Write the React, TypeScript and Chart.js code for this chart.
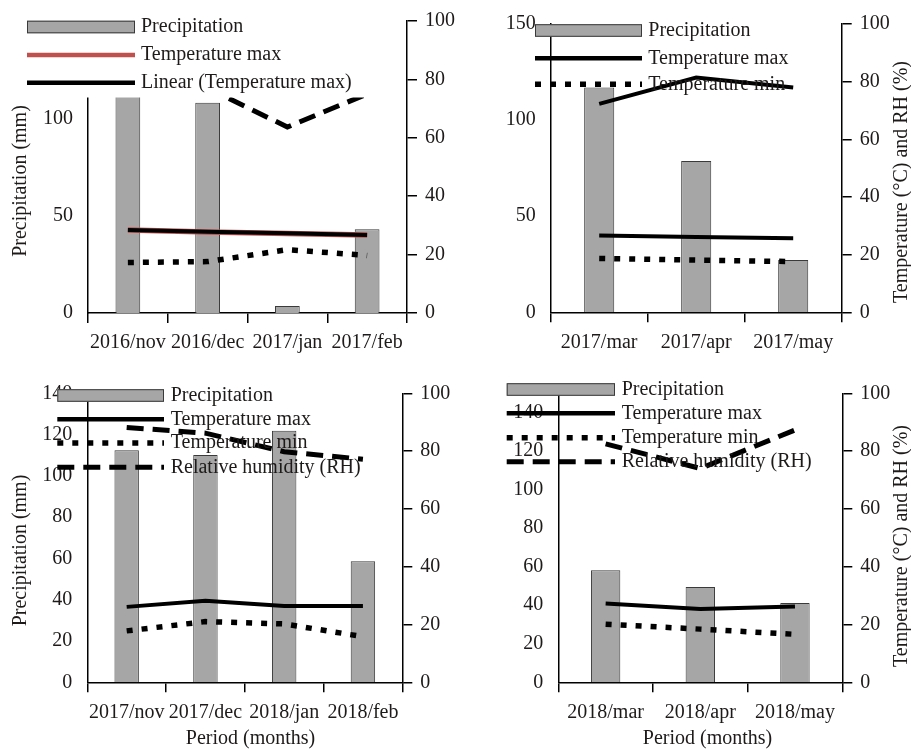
import React, { useEffect, useRef } from "react";
import { Chart, registerables } from "chart.js";

Chart.register(...registerables);

// ---------------- Data ----------------
const p1Labels = ["2016/nov", "2016/dec", "2017/jan", "2017/feb"];
const p1Precip = [128, 108, 3.6, 43];
const p1TempMax = [28.4, 27.7, 27.2, 26.7];
const p1TempMaxLinear = [28.4, 27.8, 27.3, 26.7];
const p1TempMin = [17.3, 17.6, 21.7, 19.7];
const p1RH = [80, 77, 63.7, 75];

const p2Labels = ["2017/mar", "2017/apr", "2017/may"];
const p2Precip = [117, 78.7, 27.2];
const p2TempMax = [26.6, 26.1, 25.7];
const p2TempMin = [18.7, 18.1, 17.6];
const p2RH = [72.3, 81.4, 78];

const p3Labels = ["2017/nov", "2017/dec", "2018/jan", "2018/feb"];
const p3Precip = [112.4, 110.1, 121.9, 58.6];
const p3TempMax = [26.1, 28.2, 26.4, 26.4];
const p3TempMin = [17.8, 21, 20.2, 15.8];
const p3RH = [88.2, 86.2, 79.8, 77.2];

const p4Labels = ["2018/mar", "2018/apr", "2018/may"];
const p4Precip = [58.1, 49.4, 41.2];
const p4TempMax = [27.3, 25.4, 26.2];
const p4TempMin = [20.1, 18.4, 16.6];
const p4RH = [82.5, 74, 87.3];

const precipTicksA = { max: 150, step: 50 };
const precipTicksB = { max: 140, step: 20 };
const precipTicksC = { max: 150, step: 20 };
const rightTicks = { max: 100, step: 20 };

// ---------------- Styles ----------------
const FONT = "'Liberation Serif', 'Times New Roman', serif";
const TEXT = "#1e1a1a";
const BAR_FILL = "#a6a6a6";
const BAR_BORDER = "#3a3a3a";
const RED = "#c0504d";
const DOT = [6, 9];
const DASH = [17, 9];

type Kind = "bar" | "solid" | "red" | "dotted" | "dashed";

const barDs = (data: number[]) => ({
  type: "bar" as const,
  label: "Precipitation",
  data,
  yAxisID: "y",
  backgroundColor: BAR_FILL,
  borderColor: BAR_BORDER,
  borderWidth: 1,
  barPercentage: 0.31,
  categoryPercentage: 1,
  order: 10,
});

const lineDs = (label: string, data: number[], kind: Kind, order: number) => ({
  type: "line" as const,
  label,
  data,
  yAxisID: "y1",
  borderColor: kind === "red" ? RED : "#000",
  borderWidth: kind === "dotted" ? 5.5 : kind === "dashed" ? 5 : kind === "red" ? 5.5 : 4,
  borderDash: kind === "dotted" ? DOT : kind === "dashed" ? DASH : [],
  borderCapStyle: "butt" as const,
  pointRadius: 0,
  tension: 0,
  fill: false,
  order,
});

interface LegendItem { kind: Kind; label: string; y: number }
interface Title { text: string; x: number; y: number; rot: number }
interface Spec {
  left: number; top: number; width: number; height: number;
  area: { left: number; right: number; top: number; bottom: number };
  labels: string[];
  datasets: any[];
  precipAxis: { max: number; step: number };
  legend: { x0: number; x1: number; textX: number; items: LegendItem[] };
  whiteBox?: [number, number, number, number];
  titles: Title[];
}

const specs: Spec[] = [
  {
    left: 0, top: 0, width: 455, height: 370,
    area: { left: 88, right: 407, top: 21, bottom: 313 },
    labels: p1Labels,
    datasets: [
      barDs(p1Precip),
      lineDs("Temperature max", p1TempMax, "red", 2),
      lineDs("Linear (Temperature max)", p1TempMaxLinear, "solid", 1),
      lineDs("Temperature min", p1TempMin, "dotted", 3),
      lineDs("Relative humidity (RH)", p1RH, "dashed", 4),
    ],
    precipAxis: precipTicksA,
    legend: {
      x0: 27, x1: 135, textX: 141,
      items: [
        { kind: "bar", label: "Precipitation", y: 27 },
        { kind: "red", label: "Temperature max", y: 55 },
        { kind: "solid", label: "Linear (Temperature max)", y: 82.7 },
      ],
    },
    whiteBox: [10, 0, 390, 97.5],
    titles: [{ text: "Precipitation (mm)", x: 21, y: 181, rot: -Math.PI / 2 }],
  },
  {
    left: 455, top: 0, width: 456, height: 370,
    area: { left: 95.7, right: 386.7, top: 24, bottom: 312.3 },
    labels: p2Labels,
    datasets: [
      barDs(p2Precip),
      lineDs("Temperature max", p2TempMax, "solid", 1),
      lineDs("Temperature min", p2TempMin, "dotted", 2),
      lineDs("Relative humidity (RH)", p2RH, "solid", 3),
    ],
    precipAxis: precipTicksA,
    legend: {
      x0: 80, x1: 187, textX: 193.3,
      items: [
        { kind: "bar", label: "Precipitation", y: 30.5 },
        { kind: "solid", label: "Temperature max", y: 58.3 },
        { kind: "dotted", label: "Temperature min", y: 84.3 },
      ],
    },
    titles: [{ text: "Temperature (°C) and RH (%)", x: 447, y: 182, rot: -Math.PI / 2 }],
  },
  {
    left: 0, top: 370, width: 455, height: 379,
    area: { left: 87.3, right: 402.3, top: 23.3, bottom: 312.3 },
    labels: p3Labels,
    datasets: [
      barDs(p3Precip),
      lineDs("Temperature max", p3TempMax, "solid", 1),
      lineDs("Temperature min", p3TempMin, "dotted", 2),
      lineDs("Relative humidity (RH)", p3RH, "dashed", 3),
    ],
    precipAxis: precipTicksB,
    legend: {
      x0: 57.3, x1: 164, textX: 170.7,
      items: [
        { kind: "bar", label: "Precipitation", y: 25.5 },
        { kind: "solid", label: "Temperature max", y: 49.3 },
        { kind: "dotted", label: "Temperature min", y: 73 },
        { kind: "dashed", label: "Relative humidity (RH)", y: 97.3 },
      ],
    },
    titles: [
      { text: "Precipitation (mm)", x: 21, y: 180.5, rot: -Math.PI / 2 },
      { text: "Period (months)", x: 250.5, y: 368.3, rot: 0 },
    ],
  },
  {
    left: 455, top: 370, width: 456, height: 379,
    area: { left: 103.3, right: 387.3, top: 23.3, bottom: 312.3 },
    labels: p4Labels,
    datasets: [
      barDs(p4Precip),
      lineDs("Temperature max", p4TempMax, "solid", 1),
      lineDs("Temperature min", p4TempMin, "dotted", 2),
      lineDs("Relative humidity (RH)", p4RH, "dashed", 3),
    ],
    precipAxis: precipTicksC,
    legend: {
      x0: 51.7, x1: 160, textX: 166.7,
      items: [
        { kind: "bar", label: "Precipitation", y: 19.5 },
        { kind: "solid", label: "Temperature max", y: 43.3 },
        { kind: "dotted", label: "Temperature min", y: 67.7 },
        { kind: "dashed", label: "Relative humidity (RH)", y: 91.7 },
      ],
    },
    titles: [
      { text: "Temperature (°C) and RH (%)", x: 447, y: 176, rot: -Math.PI / 2 },
      { text: "Period (months)", x: 252.5, y: 368.3, rot: 0 },
    ],
  },
];

function drawSymbol(ctx: CanvasRenderingContext2D, kind: Kind, x0: number, x1: number, y: number) {
  ctx.save();
  if (kind === "bar") {
    ctx.fillStyle = BAR_FILL;
    ctx.fillRect(x0, y - 6.3, x1 - x0, 12.6);
    ctx.strokeStyle = BAR_BORDER;
    ctx.lineWidth = 1;
    ctx.strokeRect(x0 + 0.5, y - 6.3 + 0.5, x1 - x0 - 1, 11.6);
  } else {
    ctx.beginPath();
    ctx.moveTo(x0, y);
    ctx.lineTo(x1, y);
    ctx.lineCap = "butt";
    ctx.strokeStyle = kind === "red" ? RED : "#000";
    ctx.lineWidth = kind === "dotted" ? 5.5 : kind === "dashed" ? 5 : 4.5;
    ctx.setLineDash(kind === "dotted" ? DOT : kind === "dashed" ? DASH : []);
    ctx.stroke();
  }
  ctx.restore();
}

function buildConfig(spec: Spec): any {
  const font = { family: FONT, size: 20 };
  const decor = {
    id: "panelDecor",
    afterDraw(chart: any) {
      const ctx: CanvasRenderingContext2D = chart.ctx;
      ctx.save();
      if (spec.whiteBox) {
        const [x, y, w, h] = spec.whiteBox;
        ctx.fillStyle = "#fff";
        ctx.fillRect(x, y, w, h);
      }
      ctx.font = `20px ${FONT}`;
      for (const it of spec.legend.items) {
        drawSymbol(ctx, it.kind, spec.legend.x0, spec.legend.x1, it.y);
        ctx.fillStyle = TEXT;
        ctx.textAlign = "left";
        ctx.textBaseline = "middle";
        ctx.fillText(it.label, spec.legend.textX, it.y);
      }
      for (const t of spec.titles) {
        ctx.save();
        ctx.translate(t.x, t.y);
        ctx.rotate(t.rot);
        ctx.fillStyle = TEXT;
        ctx.textAlign = "center";
        ctx.textBaseline = "middle";
        ctx.fillText(t.text, 0, 0);
        ctx.restore();
      }
      ctx.restore();
    },
  };
  return {
    type: "bar",
    data: { labels: spec.labels, datasets: spec.datasets },
    options: {
      responsive: false,
      maintainAspectRatio: false,
      animation: false,
      events: [],
      layout: { padding: { top: spec.area.top, left: 0, right: 0, bottom: 0 } },
      plugins: { legend: { display: false }, tooltip: { enabled: false } },
      scales: {
        x: {
          type: "category",
          offset: true,
          grid: {
            display: true,
            offset: true,
            drawOnChartArea: false,
            drawTicks: true,
            tickLength: 10,
            color: "#000",
            lineWidth: 1.5,
          },
          border: { display: true, color: "#000", width: 1.5 },
          ticks: { autoSkip: false, maxRotation: 0, minRotation: 0, padding: 8, color: TEXT, font },
          afterFit: (s: any) => { s.height = spec.height - spec.area.bottom; },
        },
        y: {
          position: "left",
          min: 0,
          max: spec.precipAxis.max,
          grid: { display: false },
          border: { display: true, color: "#000", width: 1.5 },
          ticks: { stepSize: spec.precipAxis.step, includeBounds: false, padding: 7, color: TEXT, font },
          afterFit: (s: any) => { s.width = spec.area.left; },
        },
        y1: {
          position: "right",
          min: 0,
          max: rightTicks.max,
          grid: {
            display: true,
            drawOnChartArea: false,
            drawTicks: true,
            tickLength: 10,
            color: "#000",
            lineWidth: 1.5,
          },
          border: { display: true, color: "#000", width: 1.5 },
          ticks: { stepSize: rightTicks.step, padding: 8, color: TEXT, font },
          afterFit: (s: any) => { s.width = spec.width - spec.area.right; },
        },
      },
    },
    plugins: [decor],
  };
}

function Panel({ spec }: { spec: Spec }) {
  const ref = useRef<HTMLCanvasElement | null>(null);
  useEffect(() => {
    if (!ref.current) return;
    const chart = new Chart(ref.current, buildConfig(spec));
    return () => chart.destroy();
  }, [spec]);
  return (
    <canvas
      ref={ref}
      width={spec.width}
      height={spec.height}
      style={{
        position: "absolute",
        left: spec.left,
        top: spec.top,
        width: spec.width,
        height: spec.height,
        display: "block",
      }}
    />
  );
}

export default function App() {
  return (
    <div
      style={{
        position: "absolute",
        left: 0,
        top: 0,
        width: 911,
        height: 749,
        background: "#fff",
        overflow: "hidden",
      }}
    >
      {specs.map((s, i) => (
        <Panel key={i} spec={s} />
      ))}
    </div>
  );
}
